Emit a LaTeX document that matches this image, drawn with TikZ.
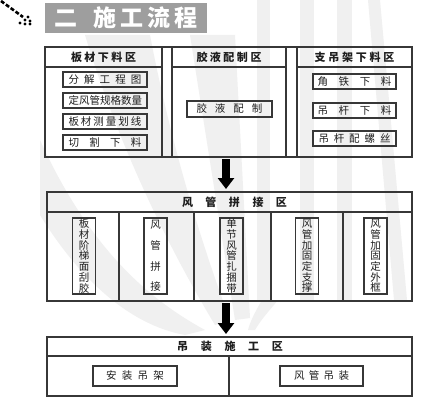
\documentclass[tikz,border=0pt]{standalone}
\usepackage{fontspec}
\setmainfont{Noto Sans CJK SC}
\usetikzlibrary{arrows.meta}
\definecolor{ln}{RGB}{55,55,55}
\definecolor{tx}{RGB}{30,30,30}
\definecolor{titlegray}{RGB}{158,158,158}
\definecolor{wm}{RGB}{240,240,240}
\newcommand\spr[2]{\makebox[#1][s]{#2}}
\begin{document}
\begin{tikzpicture}[x=1pt,y=-1pt,
  frame/.style={draw=ln,line width=1.2pt},
  item/.style={draw=ln,line width=1.1pt,inner sep=0pt,text=tx,
    font=\fontsize{10.5}{12}\selectfont},
  head/.style={inner sep=0pt,text=tx,font=\bfseries\fontsize{11}{12}\selectfont},
  vbox/.style={draw=ln,line width=1.1pt,inner sep=0pt,text=tx,align=center,
    minimum width=23pt,minimum height=76pt},
  bigarrow/.style={draw=black,line width=8pt,-{Triangle[width=16pt,length=11pt]}}]
\useasboundingbox (0,0) rectangle (447,417);
\fill[white] (0,0) rectangle (447,417);
% faint background watermark
\begin{scope}[fill=wm]
\fill (205,330) .. controls (150,300) and (90,250) .. (40,140) -- (40,215) .. controls (80,280) and (130,325) .. (185,335) -- cycle;
\fill (215,325) .. controls (170,250) and (120,150) .. (85,35) -- (150,35) .. controls (170,140) and (200,240) .. (230,320) -- cycle;
\fill (235,320) -- (190,35) -- (235,35) -- (250,318) -- cycle;
\fill (257,0) rectangle (270,300);
\fill (300,0) rectangle (314,300);
\fill (337,0) rectangle (352,300);
\fill (368,0) -- (380,0) -- (407,300) -- (394,300) -- cycle;
\fill (255,330) .. controls (262,318) and (270,310) .. (278,300) -- (262,300) .. controls (255,312) and (250,322) .. (248,330) -- cycle;
\end{scope}
% title
\draw[line width=2.6pt,dash pattern=on 4pt off 2pt] (1,1) -- (23,17);
\foreach \p/\q in {28/17,25/20,30/21,20/23,25/24,30/24}
  \fill (\p,\q) circle (1.6pt);
\node[fill=titlegray,minimum width=162pt,minimum height=30pt,inner sep=0pt,
  text=white,font=\bfseries\fontsize{23}{24}\selectfont] (title) at (126,18)
  {二\hspace{16pt}施\hspace{4pt}工\hspace{4pt}流\hspace{4pt}程};
% top frame
\draw[frame] (45,47) rectangle (412,157);
\draw[frame] (162,47) -- (162,157) (172,47) -- (172,157)
             (286,47) -- (286,157) (297,47) -- (297,157);
\draw[frame] (45,67) -- (162,67) (172,67) -- (286,67) (297,67) -- (412,67);
\node[head] (h1) at (103.5,57.5) {\spr{65pt}{板\hfill 材\hfill 下\hfill 料\hfill 区}};
\node[head] (h2) at (229,57.5) {\spr{65pt}{胶\hfill 液\hfill 配\hfill 制\hfill 区}};
\node[head] (h3) at (354.5,57.5) {\spr{80pt}{支\hfill 吊\hfill 架\hfill 下\hfill 料\hfill 区}};
\tikzset{litem/.style={item,minimum width=84pt,minimum height=15pt}}
\node[litem] (l1) at (105,79.5) {\spr{73pt}{分\hfill 解\hfill 工\hfill 程\hfill 图}};
\node[litem] (l2) at (105,100.5) {\spr{73pt}{定\hfill 风\hfill 管\hfill 规\hfill 格\hfill 数\hfill 量}};
\node[litem] (l3) at (105,121.5) {\spr{73pt}{板\hfill 材\hfill 测\hfill 量\hfill 划\hfill 线}};
\node[litem] (l4) at (105,142.5) {\spr{73pt}{切\hfill 割\hfill 下\hfill 料}};
\node[item,minimum width=85pt,minimum height=16pt] (m1) at (229.5,109) {\spr{66pt}{胶\hfill 液\hfill 配\hfill 制}};
\tikzset{ritem/.style={item,minimum width=83pt,minimum height=15pt}}
\node[ritem] (r1) at (354.5,81.5) {\spr{74pt}{角\hfill 铁\hfill 下\hfill 料}};
\node[ritem] (r2) at (354.5,110.5) {\spr{74pt}{吊\hfill 杆\hfill 下\hfill 料}};
\node[ritem] (r3) at (354.5,138.5) {\spr{72pt}{吊\hfill 杆\hfill 配\hfill 螺\hfill 丝}};
% arrow 1
\coordinate (a1s) at (226,159);
\coordinate (a1e) at (226,189);
\draw[bigarrow] (a1s) -- (a1e);
% middle frame
\draw[frame] (47,192) rectangle (412,301);
\draw[frame] (47,212) -- (412,212);
\draw[frame] (119,212) -- (119,301) (194,212) -- (194,301)
             (271,212) -- (271,301) (343,212) -- (343,301);
\node[head] (h4) at (234.5,202) {\spr{105pt}{风\hfill 管\hfill 拼\hfill 接\hfill 区}};
\tikzset{vfont/.style={font=\fontsize{10.5}{10.7}\selectfont}}
\node[vbox,vfont] (v1) at (84,256) {板\\材\\阶\\梯\\面\\刮\\胶};
\node[vbox,font=\fontsize{10.5}{20.7}\selectfont] (v2) at (155.5,256) {风\\管\\拼\\接};
\node[vbox,vfont] (v3) at (231.5,256) {单\\节\\风\\管\\扎\\捆\\带};
\node[vbox,vfont] (v4) at (307,256) {风\\管\\加\\固\\定\\支\\撑};
\node[vbox,vfont] (v5) at (375.5,256) {风\\管\\加\\固\\定\\外\\框};
% arrow 2
\coordinate (a2s) at (226,303);
\coordinate (a2e) at (226,334);
\draw[bigarrow] (a2s) -- (a2e);
% bottom frame
\draw[frame] (47,337) rectangle (412,396);
\draw[frame] (47,356) -- (412,356);
\draw[frame] (229,356) -- (229,396);
\node[head] (h5) at (230,346.5) {\spr{106pt}{吊\hfill 装\hfill 施\hfill 工\hfill 区}};
\node[item,minimum width=84pt,minimum height=20pt] (b1) at (135,376) {\spr{58pt}{安\hfill 装\hfill 吊\hfill 架}};
\node[item,minimum width=83pt,minimum height=20pt] (b2) at (321.5,376) {\spr{55pt}{风\hfill 管\hfill 吊\hfill 装}};
\end{tikzpicture}
\end{document}
